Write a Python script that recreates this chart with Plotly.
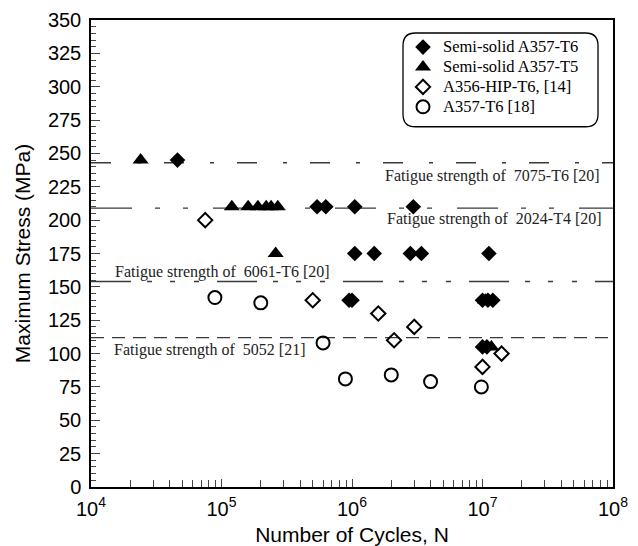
import plotly.graph_objects as go

# ---- data ----
t6_x = [4.6e4, 5.4e5, 6.3e5, 1.05e6, 2.95e6,
        1.05e6, 1.48e6, 2.8e6, 3.4e6, 1.12e7,
        9.5e5, 1.0e6, 1.0e7, 1.1e7, 1.2e7,
        1.0e7, 1.08e7]
t6_y = [245, 210, 210, 210, 210,
        175, 175, 175, 175, 175,
        140, 140, 140, 140, 140,
        105, 105]

t5_x = [2.4e4, 1.2e5, 1.6e5, 1.9e5, 2.2e5, 2.4e5, 2.7e5, 2.6e5, 1.05e7, 1.17e7]
t5_y = [245, 210, 210, 210, 210, 210, 210, 175, 140, 105]

hip_x = [7.5e4, 5.0e5, 1.59e6, 2.1e6, 3.0e6, 1.0e7, 1.4e7]
hip_y = [200, 140, 130, 110, 120, 90, 100]

a357_x = [8.9e4, 2.0e5, 6.0e5, 8.9e5, 2.0e6, 4.0e6, 9.8e6]
a357_y = [142, 138, 108, 81, 84, 79, 75]

ref_names = ["Fatigue strength of  7075-T6 [20]", "Fatigue strength of  2024-T4 [20]",
             "Fatigue strength of  6061-T6 [20]", "Fatigue strength of  5052 [21]"]
ref_vals = [243, 209, 154, 112]

series_names = ["Semi-solid A357-T6", "Semi-solid A357-T5", "A356-HIP-T6, [14]", "A357-T6 [18]"]

decades = [4, 5, 6, 7, 8]

# ---- figure ----
fig = go.Figure()

dashes = ["20px,26px,4px,23px",
          "41px,23px,5px,23px,5px,25px",
          "40px,16px,5px,18px,5px,19px,5px,18px",
          "13px,8px"]
for v, d in zip(ref_vals, dashes):
    fig.add_shape(type="line", xref="paper", x0=0, x1=1, yref="y", y0=v, y1=v,
                  line=dict(color="#3a3a3a", width=1.3, dash=d), layer="below")


def lname(s):
    return f'<span style="font-size:16.5px">{s}</span>'


fig.add_trace(go.Scatter(x=t6_x, y=t6_y, mode="markers", name=lname(series_names[0]),
                         marker=dict(symbol="diamond", size=12, color="black")))
fig.add_trace(go.Scatter(x=t5_x, y=t5_y, mode="markers", name=lname(series_names[1]),
                         marker=dict(symbol="triangle-up", size=14, color="black")))
fig.add_trace(go.Scatter(x=hip_x, y=hip_y, mode="markers", name=lname(series_names[2]),
                         marker=dict(symbol="diamond-open", size=11, color="black",
                                     line=dict(width=2, color="black"))))
fig.add_trace(go.Scatter(x=a357_x, y=a357_y, mode="markers", name=lname(series_names[3]),
                         marker=dict(symbol="circle-open", size=13, color="black",
                                     line=dict(width=2, color="black"))))

serif = "Liberation Serif, Times New Roman, serif"
ann_pos = [(0.559, 233), (0.563, 200.5), (0.042, 161), (0.040, 102.5)]
for (px, py), txt in zip(ann_pos, ref_names):
    fig.add_annotation(xref="paper", yref="y", x=px, y=py, text=txt, showarrow=False,
                       xanchor="left", yanchor="middle",
                       font=dict(family=serif, size=16, color="#222"))

# rounded legend box
x0, x1 = 0.5977, 0.9713
y0, y1 = 0.7714, 0.9722
rx, ry = 0.024, 0.027
path = (f"M {x0+rx},{y1} L {x1-rx},{y1} Q {x1},{y1} {x1},{y1-ry} "
        f"L {x1},{y0+ry} Q {x1},{y0} {x1-rx},{y0} L {x0+rx},{y0} "
        f"Q {x0},{y0} {x0},{y0+ry} L {x0},{y1-ry} Q {x0},{y1} {x0+rx},{y1} Z")
fig.add_shape(type="path", xref="paper", yref="paper", path=path,
              line=dict(color="black", width=1.3), fillcolor="white", layer="below")

minor_vals = [m * 10 ** d for d in decades[:-1] for m in range(2, 10)]

fig.update_layout(
    width=638, height=546,
    margin=dict(l=91, r=25, t=20, b=59),
    plot_bgcolor="white", paper_bgcolor="white",
    font=dict(family="Liberation Sans, Arial, sans-serif", size=20, color="black"),
    showlegend=True,
    legend=dict(x=0.5977, y=0.974, xanchor="left", yanchor="top",
                bgcolor="rgba(0,0,0,0)", borderwidth=0,
                font=dict(family=serif, size=13, color="black"),
                tracegroupgap=0, itemsizing="trace"),
    xaxis=dict(type="log", range=[4, 8], automargin=False,
               tickvals=[10 ** d for d in decades],
               ticktext=[f"10<sup>{d}</sup>" for d in decades],
               ticks="inside", ticklen=8, tickwidth=1.2,
               tickfont=dict(size=20), ticklabelstandoff=3,
               minor=dict(tickvals=minor_vals, ticks="inside", ticklen=7, tickwidth=1.2),
               showline=True, linewidth=1.5, linecolor="black", mirror=True,
               showgrid=False, zeroline=False,
               title=dict(text="Number of Cycles, N", standoff=10, font=dict(size=21))),
    yaxis=dict(range=[0, 350], dtick=25, tick0=0, automargin=False,
               ticks="inside", ticklen=9, tickwidth=1.2,
               ticklabelstandoff=4,
               minor=dict(dtick=5, ticks="inside", ticklen=5, tickwidth=1),
               showline=True, linewidth=1.5, linecolor="black", mirror=True,
               showgrid=False, zeroline=False,
               title=dict(text="Maximum Stress (MPa)", standoff=12, font=dict(size=21))),
)

fig.write_html("out.html")
